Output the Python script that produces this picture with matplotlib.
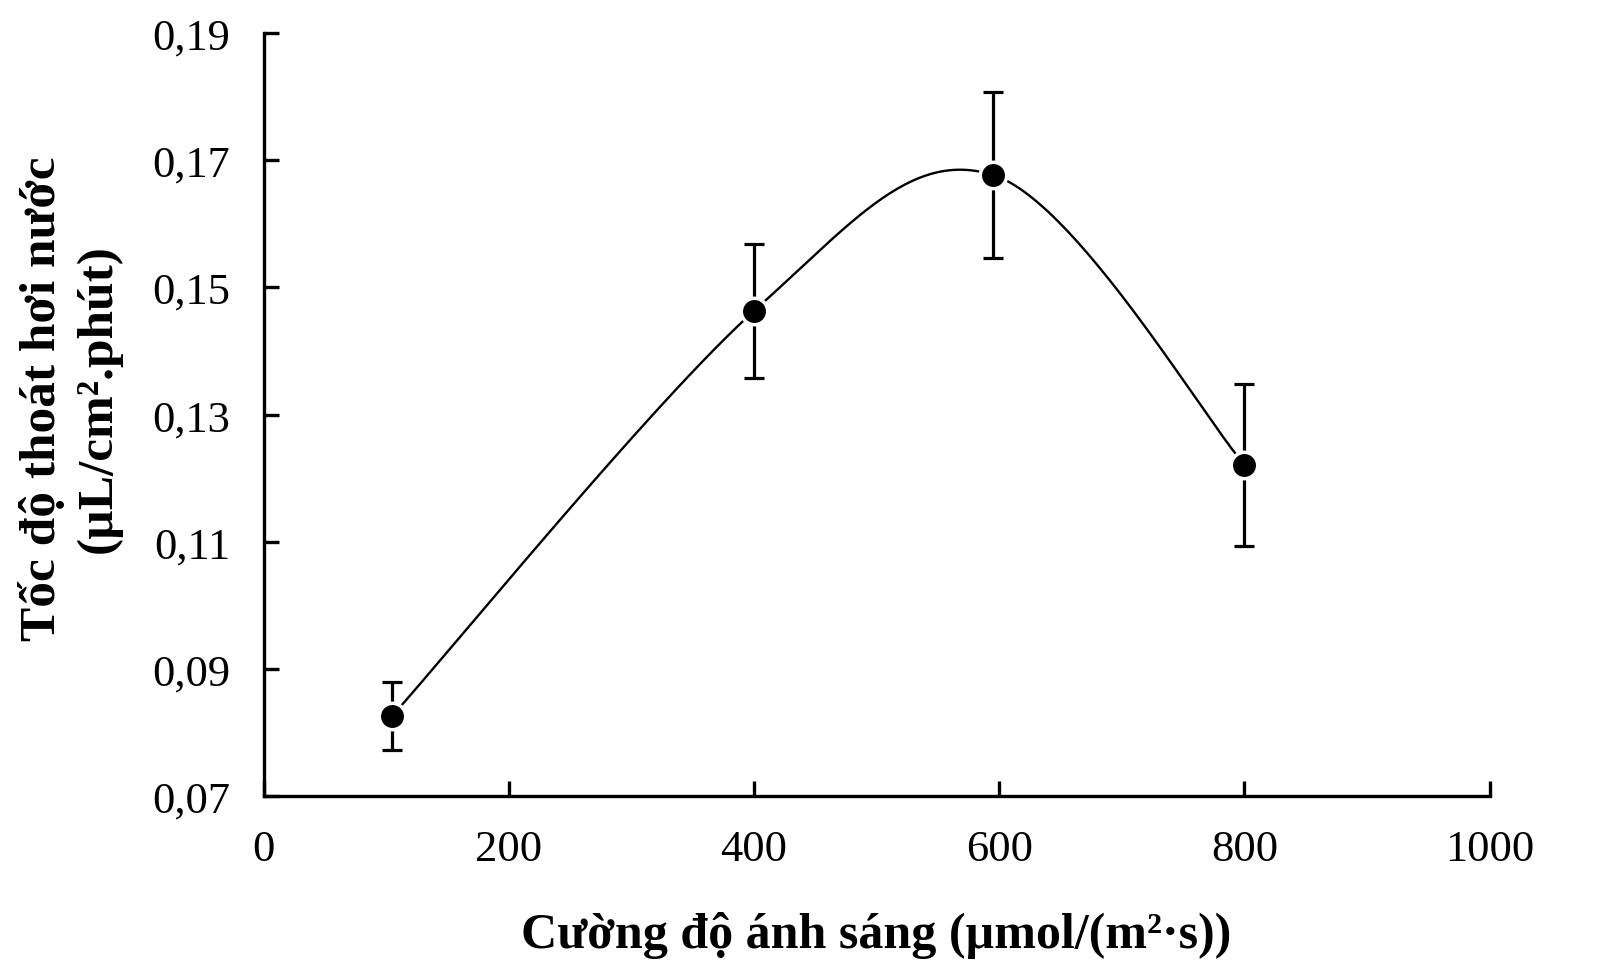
import numpy as np
import matplotlib
matplotlib.use('Agg')
import matplotlib.pyplot as plt

# data
light = [105, 400, 595, 800]
rate = [0.0826, 0.1463, 0.1677, 0.1221]
err = [0.0054, 0.0105, 0.0130, 0.0127]

x_ticks = [0, 200, 400, 600, 800, 1000]
y_ticks = [0.07, 0.09, 0.11, 0.13, 0.15, 0.17, 0.19]
y_tick_labels = ['0,07', '0,09', '0,11', '0,13', '0,15', '0,17', '0,19']

plt.rcParams['font.family'] = ['Liberation Serif', 'DejaVu Serif']


def smooth_curve(xs, ys, n=60):
    # catmull-rom style bezier, like a spreadsheet "smoothed line"
    px = [xs[0]] + list(xs) + [xs[-1]]
    py = [ys[0]] + list(ys) + [ys[-1]]
    out_x, out_y = [], []
    t = np.linspace(0, 1, n)
    for i in range(1, len(px) - 2):
        x0, x1, x2, x3 = px[i - 1], px[i], px[i + 1], px[i + 2]
        y0, y1, y2, y3 = py[i - 1], py[i], py[i + 1], py[i + 2]
        c1x, c1y = x1 + (x2 - x0) / 6, y1 + (y2 - y0) / 6
        c2x, c2y = x2 - (x3 - x1) / 6, y2 - (y3 - y1) / 6
        bx = (1 - t)**3 * x1 + 3 * (1 - t)**2 * t * c1x + 3 * (1 - t) * t**2 * c2x + t**3 * x2
        by = (1 - t)**3 * y1 + 3 * (1 - t)**2 * t * c1y + 3 * (1 - t) * t**2 * c2y + t**3 * y2
        out_x.extend(bx)
        out_y.extend(by)
    return np.array(out_x), np.array(out_y)


fig = plt.figure(figsize=(16.07, 9.79), dpi=100)
ax = fig.add_axes([0.164, 0.186, 0.763, 0.779])

cx, cy = smooth_curve(light, rate)
ax.plot(cx, cy, color='black', lw=1.7, zorder=2)

ax.errorbar(light, rate, yerr=err, fmt='none', ecolor='black',
            elinewidth=2.3, capsize=7, capthick=2.3, zorder=3)
ax.plot(light, rate, 'o', color='black', markersize=19,
        markeredgecolor='white', markeredgewidth=2.5, zorder=4)

ax.set_xlim(0, 1000)
ax.set_ylim(0.07, 0.19)
ax.set_xticks(x_ticks)
ax.set_xticklabels([str(v) for v in x_ticks])
ax.set_yticks(y_ticks)
ax.set_yticklabels(y_tick_labels)

for side in ['top', 'right']:
    ax.spines[side].set_visible(False)
for side in ['left', 'bottom']:
    ax.spines[side].set_linewidth(2.4)

ax.tick_params(axis='both', direction='in', length=11, width=2.4,
               labelsize=32)
ax.tick_params(axis='x', pad=24)
ax.tick_params(axis='y', pad=24)

ax.set_xlabel('Cường độ ánh sáng (µmol/(m²·s))', fontsize=36,
              fontweight='bold', labelpad=30)
ax.set_ylabel('Tốc độ thoát hơi nước\n(µL/cm².phút)', fontsize=37,
              fontweight='bold', linespacing=1.25)
ax.yaxis.set_label_coords(-0.116, 0.522)

fig.savefig('out.png', dpi=100)
